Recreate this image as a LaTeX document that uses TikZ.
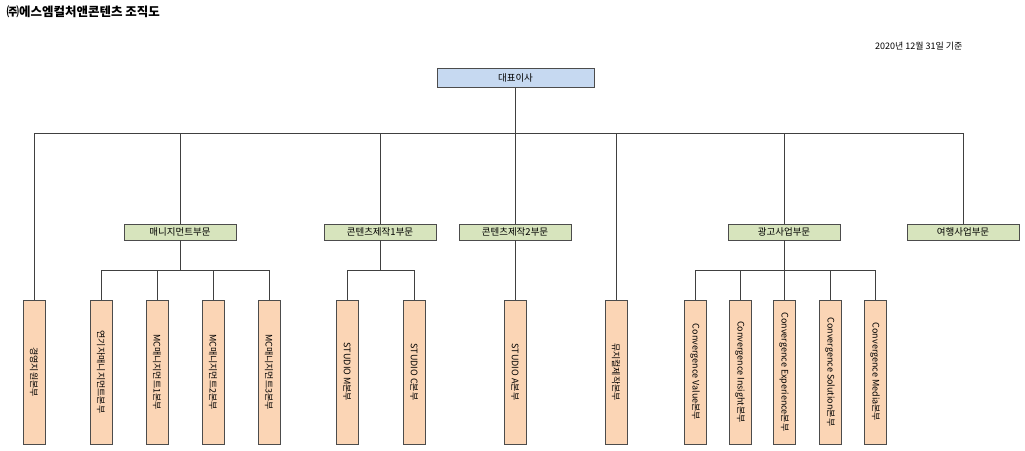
\documentclass[tikz,border=0pt]{standalone}
\usepackage{fontspec}
\setmainfont{Noto Sans CJK KR}
\usepackage{tikz}
\definecolor{TopBlue}{HTML}{C6D9F1}
\definecolor{MidGreen}{HTML}{D7E4BD}
\definecolor{LowPeach}{HTML}{FBD5B5}
\tikzset{
  topbox/.style={draw=black!70, fill=TopBlue, minimum width=157pt, minimum height=19pt, inner sep=0pt, font=\fontsize{9.5}{10}\selectfont},
  midbox/.style={draw=black!70, fill=MidGreen, minimum width=112pt, minimum height=16pt, inner sep=0pt, font=\fontsize{9.5}{10}\selectfont},
  lowbox/.style={draw=black!70, fill=LowPeach, minimum width=144pt, minimum height=22pt, inner sep=0pt, rotate=-90, font=\fontsize{9}{10}\selectfont},
  wire/.style={draw=black!75, line width=0.8pt}
}
\begin{document}
\begin{tikzpicture}[x=1pt,y=-1pt]
\useasboundingbox (0,0) rectangle (1025,450);
%TITLE
\node[anchor=west, font=\fontsize{12.5}{13}\selectfont\bfseries] (title) at (3,12) {㈜에스엠컬처앤콘텐츠 조직도};
\node[anchor=east, font=\fontsize{9}{10}\selectfont] (date) at (966,46) {2020년 12월 31일 기준};
%TOP
\node[topbox] (ceo) at (515.5,78) {대표이사};
%MID
\node[midbox] (mgmt) at (180,232) {매니지먼트부문};
\node[midbox] (cont1) at (380,232) {콘텐츠제작1부문};
\node[midbox] (cont2) at (515,232) {콘텐츠제작2부문};
\node[midbox] (ad) at (784,232) {광고사업부문};
\node[midbox] (travel) at (963,232) {여행사업부문};
%BOT
\node[lowbox] (biz) at (34,372) {경영지원본부};
\node[lowbox] (actor) at (101,372) {연기자매니지먼트본부};
\node[lowbox] (mca) at (157,372) {MC매니지먼트1본부};
\node[lowbox] (mcb) at (213,372) {MC매니지먼트2본부};
\node[lowbox] (mcc) at (269,372) {MC매니지먼트3본부};
\node[lowbox] (stm) at (347,372) {STUDIO M본부};
\node[lowbox] (stc) at (414,372) {STUDIO C본부};
\node[lowbox] (sta) at (515,372) {STUDIO A본부};
\node[lowbox] (musical) at (616,372) {뮤지컬제작본부};
\node[lowbox] (cva) at (695,372) {Convergence Value본부};
\node[lowbox] (cin) at (740,372) {Convergence Insight본부};
\node[lowbox] (cex) at (784,372) {Convergence Experience본부};
\node[lowbox] (cso) at (830,372) {Convergence Solution본부};
\node[lowbox] (cme) at (875,372) {Convergence Media본부};
% Wires
\coordinate (bus) at (0,133);
\draw[wire] (ceo.south) -- (ceo.south |- bus);
\draw[wire] (biz.west |- bus) -- (travel.north |- bus);
\draw[wire] (biz.west |- bus) -- (biz.west);
\draw[wire] (musical.west |- bus) -- (musical.west);
\foreach \m in {mgmt,cont1,cont2,ad,travel}
  \draw[wire] (\m.north |- bus) -- (\m.north);
\draw[wire] (cont2.south) -- (sta.west);
\coordinate (sub) at (0,270);
\foreach \m/\a/\b/\kids in {mgmt/actor/mcc/{actor,mca,mcb,mcc}, cont1/stm/stc/{stm,stc}, ad/cva/cme/{cva,cin,cex,cso,cme}}{
  \draw[wire] (\m.south) -- (\m.south |- sub);
  \draw[wire] (\a.west |- sub) -- (\b.west |- sub);
  \foreach \k in \kids
    \draw[wire] (\k.west |- sub) -- (\k.west);
}
\end{tikzpicture}
\end{document}
